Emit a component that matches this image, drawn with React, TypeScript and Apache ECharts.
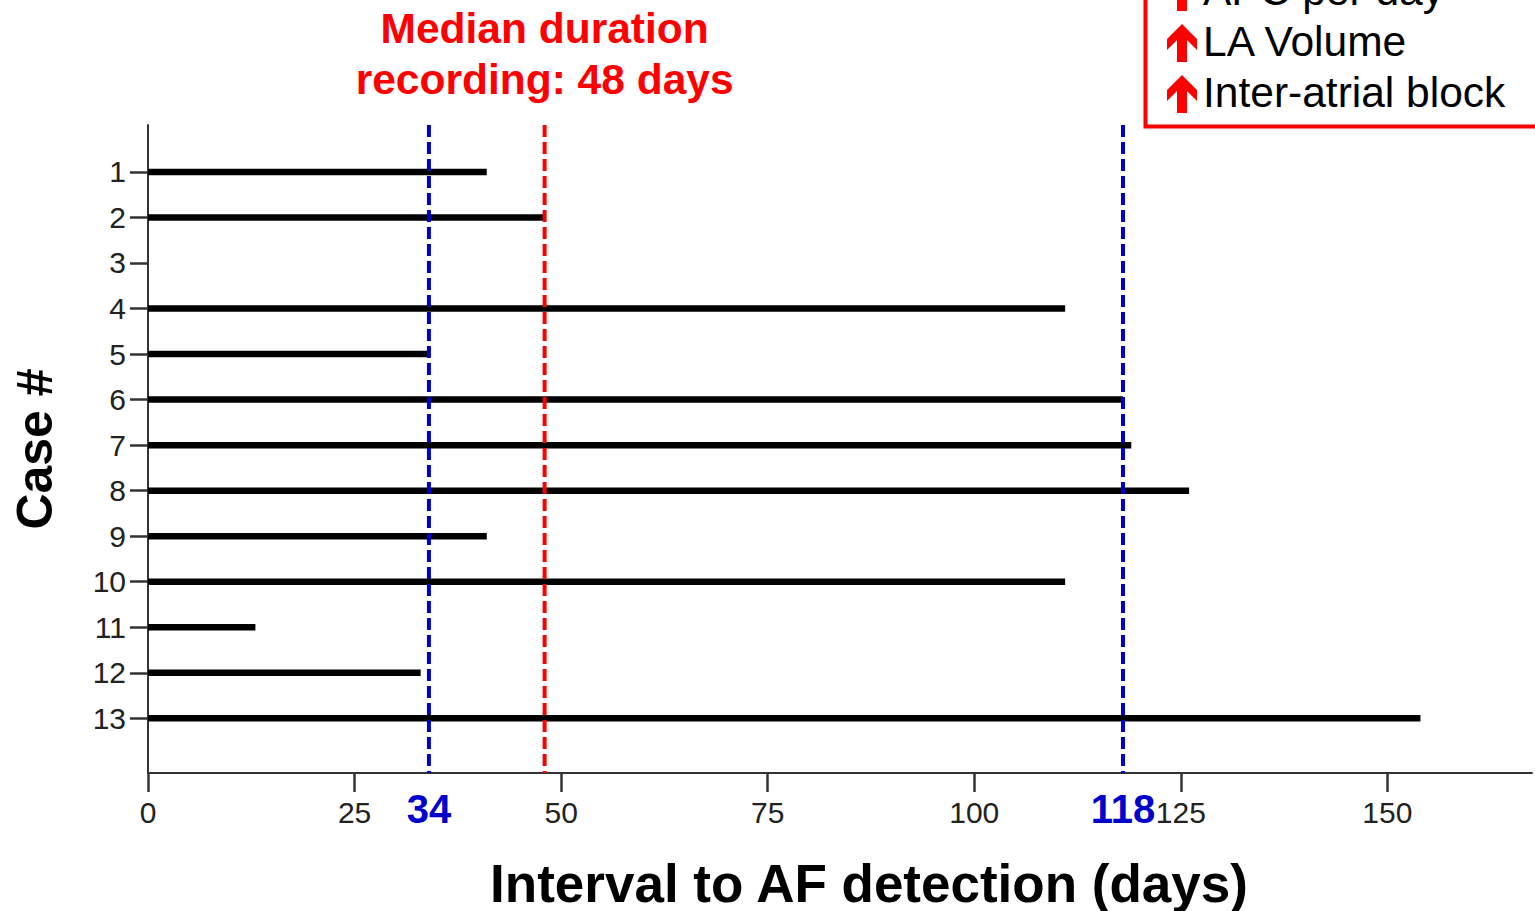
import React, { useEffect, useRef } from 'react';
import * as echarts from 'echarts';

const caseNumbers = [1, 2, 3, 4, 5, 6, 7, 8, 9, 10, 11, 12, 13];
const intervalDays = [41, 48, 0, 111, 34, 118, 119, 126, 41, 111, 13, 33, 154];
const xTickValues = [0, 25, 50, 75, 100, 125, 150];
const referenceDays = [34, 48, 118];
const referenceColors = ['#0000cc', '#ff0000', '#0000cc'];
const referenceLabels = ['34', '', '118'];
const medianTitle = 'Median duration\nrecording: 48 days';
const legendItems = ['APC per day', 'LA Volume', 'Inter-atrial block'];

const X_MAX = 167.5;
const Y_MIN = -0.03;
const Y_MAX = 14.2;
const FONT = '"Liberation Sans", Arial, Helvetica, sans-serif';

export default function App() {
  const ref = useRef<HTMLDivElement>(null);
  useEffect(() => {
    if (!ref.current) return;
    const chart = echarts.init(ref.current, null, { renderer: 'svg' });

    const arrowPts = (cx: number, top: number) => [
      [cx, top],
      [cx + 15, top + 15],
      [cx + 15, top + 26],
      [cx + 5, top + 16],
      [cx + 5, top + 38],
      [cx - 5, top + 38],
      [cx - 5, top + 16],
      [cx - 15, top + 26],
      [cx - 15, top + 15],
    ];

    const legendGraphics: any[] = [
      {
        type: 'rect',
        shape: { x: 1145.5, y: -10, width: 500, height: 136.5 },
        style: { fill: 'none', stroke: '#ff0000', lineWidth: 4 },
      },
    ];
    legendItems.forEach((t, i) => {
      const cy = -10 + i * 51;
      legendGraphics.push({
        type: 'polygon',
        shape: { points: arrowPts(1182, cy - 17) },
        style: { fill: '#ff0000' },
      });
      legendGraphics.push({
        type: 'text',
        x: 1203,
        y: cy,
        style: {
          text: t,
          fill: '#000',
          font: `42.5px ${FONT}`,
          align: 'left',
          verticalAlign: 'middle',
        },
      });
    });

    const option: any = {
      animation: false,
      backgroundColor: '#fff',
      grid: {
        left: 148,
        top: 125,
        right: 3,
        bottom: 138,
        containLabel: false,
        outerBoundsMode: 'none',
      },
      xAxis: {
        type: 'value',
        position: 'bottom',
        min: 0,
        max: X_MAX,
        interval: 25,
        name: 'Interval to AF detection (days)',
        nameLocation: 'middle',
        nameGap: 84,
        nameTextStyle: {
          fontFamily: FONT,
          fontWeight: 'bold',
          fontSize: 53,
          color: '#000',
          padding: [0, 0, 0, 58],
        },
        axisLine: { show: true, onZero: false, lineStyle: { color: '#333', width: 2 } },
        axisTick: {
          show: true,
          length: 19,
          customValues: xTickValues,
          lineStyle: { color: '#333', width: 2.5 },
        },
        axisLabel: {
          customValues: xTickValues,
          margin: 24,
          fontFamily: FONT,
          fontSize: 30,
          color: '#222',
        },
        splitLine: { show: false },
      },
      yAxis: {
        type: 'value',
        position: 'left',
        min: Y_MIN,
        max: Y_MAX,
        inverse: true,
        name: 'Case #',
        nameLocation: 'middle',
        nameGap: 88,
        nameTextStyle: {
          fontFamily: FONT,
          fontWeight: 'bold',
          fontSize: 50,
          color: '#000',
        },
        axisLine: { show: true, onZero: false, lineStyle: { color: '#333', width: 2 } },
        axisTick: {
          show: true,
          length: 18,
          customValues: caseNumbers,
          lineStyle: { color: '#333', width: 2.5 },
        },
        axisLabel: {
          customValues: caseNumbers,
          margin: 22,
          fontFamily: FONT,
          fontSize: 30,
          color: '#222',
          padding: [10, 0, 0, 0],
        },
        splitLine: { show: false },
      },
      graphic: legendGraphics,
      series: [
        {
          type: 'custom',
          name: 'Interval',
          encode: { x: 0, y: 1 },
          data: caseNumbers.map((c, i) => [intervalDays[i], c]),
          renderItem: (params: any, api: any) => {
            const v = api.value(0);
            const c = api.value(1);
            const s = api.coord([0, c]);
            const e = api.coord([v, c]);
            return {
              type: 'line',
              shape: { x1: s[0], y1: s[1], x2: e[0], y2: e[1] },
              style: { stroke: '#000', lineWidth: 6.5 },
            };
          },
          z: 2,
        },
        {
          type: 'custom',
          name: 'Reference',
          encode: { x: 0 },
          data: referenceDays.map((d) => [d]),
          renderItem: (params: any, api: any) => {
            const idx = params.dataIndex;
            const d = api.value(0);
            const top = api.coord([d, Y_MIN]);
            const bot = api.coord([d, Y_MAX]);
            const color = referenceColors[idx];
            const children: any[] = [
              {
                type: 'line',
                shape: { x1: top[0], y1: top[1], x2: bot[0], y2: bot[1] },
                style: { stroke: color, lineWidth: 4, lineDash: [12, 5] },
              },
            ];
            if (referenceLabels[idx]) {
              children.push({
                type: 'text',
                x: bot[0],
                y: bot[1] + 36,
                style: {
                  text: referenceLabels[idx],
                  fill: color,
                  font: `bold 40px ${FONT}`,
                  align: 'center',
                  verticalAlign: 'middle',
                },
              });
            } else {
              children.push({
                type: 'text',
                x: top[0],
                y: top[1] - 20,
                style: {
                  text: medianTitle,
                  fill: color,
                  font: `bold 42.5px ${FONT}`,
                  lineHeight: 51,
                  align: 'center',
                  verticalAlign: 'bottom',
                },
              });
            }
            return { type: 'group', children };
          },
          z: 3,
        },
      ],
    };
    chart.setOption(option);
    return () => chart.dispose();
  }, []);
  return (
    <div
      ref={ref}
      style={{ position: 'fixed', left: 0, top: 0, width: 1535, height: 911, background: '#fff' }}
    />
  );
}
